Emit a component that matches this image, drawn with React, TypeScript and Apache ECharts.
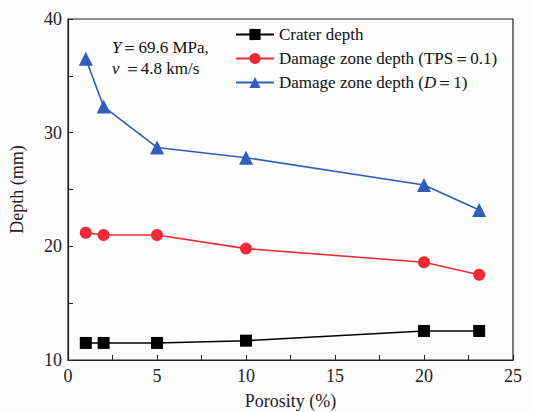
import React, { useEffect, useRef } from "react";
import * as echarts from "echarts";

const porosity = [1, 2, 5, 10, 20, 23.1];
const craterDepth = [11.5, 11.5, 11.5, 11.7, 12.55, 12.55];
const damageTPS = [21.2, 21.0, 21.0, 19.8, 18.6, 17.5];
const damageD = [36.5, 32.3, 28.7, 27.8, 25.4, 23.2];
const seriesNames = ["Crater depth", "Damage zone depth (TPS＝0.1)", "Damage zone depth (D＝1)"];

const FONT = "Liberation Serif";

export default function App() {
  const ref = useRef<HTMLDivElement>(null);
  useEffect(() => {
    if (!ref.current) return;
    const chart = echarts.init(ref.current, undefined, { renderer: "svg" });
    const pair = (ys: number[]) => porosity.map((x, i) => [x, ys[i]]);
    chart.setOption({
      animation: false,
      backgroundColor: "#fcfcfc",
      textStyle: { fontFamily: FONT },
      grid: {
        left: 68, right: 20, top: 19, bottom: 52,
        outerBoundsMode: "none",
        containLabel: false,
        show: true, borderColor: "#222", borderWidth: 1.2, backgroundColor: "transparent",
      },
      legend: {
        top: 21,
        left: 230,
        orient: "vertical",
        itemGap: 7,
        itemWidth: 38,
        itemHeight: 14,
        textStyle: {
          fontFamily: FONT,
          fontSize: 17,
          color: "#111",
          rich: {
            n: { fontFamily: FONT, fontSize: 17, color: "#111" },
            i: { fontFamily: FONT, fontSize: 17, color: "#111", fontStyle: "italic" },
          },
        },
        formatter: (name: string) => {
          if (name === seriesNames[2]) return "{n|Damage zone depth (}{i|D}{n|＝1)}";
          return "{n|" + name + "}";
        },
        data: seriesNames,
      },
      graphic: [
        {
          type: "text",
          left: 112,
          top: 37,
          style: {
            text: "{i|Y}{n|＝69.6 MPa,}\n{i|v}{n| ＝4.8 km/s}",
            fontFamily: FONT,
            fontSize: 17,
            lineHeight: 21,
            fill: "#111",
            rich: {
              n: { fontFamily: FONT, fontSize: 17, fill: "#111", lineHeight: 21 },
              i: { fontFamily: FONT, fontSize: 17, fill: "#111", fontStyle: "italic", lineHeight: 21 },
            },
          },
        },
      ],
      xAxis: {
        type: "value",
        min: 0,
        max: 25,
        interval: 5,
        name: "Porosity (%)",
        nameLocation: "middle",
        nameGap: 32,
        nameMoveOverlap: false,
        nameTextStyle: { fontFamily: FONT, fontSize: 18, color: "#222" },
        axisLine: { onZero: false, lineStyle: { color: "#222", width: 1.2 } },
        axisTick: { inside: true, length: 5, lineStyle: { color: "#222" } },
        minorTick: { show: true, splitNumber: 2, length: 5, lineStyle: { color: "#222" } },
        axisLabel: { fontFamily: FONT, fontSize: 18, color: "#222", margin: 7 },
        splitLine: { show: false },
      },
      yAxis: {
        type: "value",
        min: 10,
        max: 40,
        interval: 10,
        name: "Depth (mm)",
        nameLocation: "middle",
        nameGap: 42,
        nameMoveOverlap: false,
        nameTextStyle: { fontFamily: FONT, fontSize: 18, color: "#222" },
        axisLine: { lineStyle: { color: "#222", width: 1.2 } },
        axisTick: { inside: true, length: 5, lineStyle: { color: "#222" } },
        minorTick: { show: true, splitNumber: 2, length: 5, lineStyle: { color: "#222" } },
        axisLabel: { fontFamily: FONT, fontSize: 18, color: "#222", margin: 6, verticalAlign: "middle" },
        splitLine: { show: false },
      },
      series: [
        {
          name: seriesNames[0],
          type: "line",
          data: pair(craterDepth),
          symbol: "rect",
          symbolSize: 12,
          itemStyle: { color: "#000" },
          lineStyle: { color: "#000", width: 1.6 },
        },
        {
          name: seriesNames[1],
          type: "line",
          data: pair(damageTPS),
          symbol: "circle",
          symbolSize: 12,
          itemStyle: { color: "#ee2a35" },
          lineStyle: { color: "#ee2a35", width: 1.6 },
        },
        {
          name: seriesNames[2],
          type: "line",
          data: pair(damageD),
          symbol: "triangle",
          symbolSize: 14,
          itemStyle: { color: "#2f5fb8" },
          lineStyle: { color: "#2f5fb8", width: 1.6 },
        },
      ],
    });
    return () => chart.dispose();
  }, []);
  return (
    <div
      ref={ref}
      style={{ position: "absolute", left: 0, top: 0, width: 533, height: 412 }}
    />
  );
}
